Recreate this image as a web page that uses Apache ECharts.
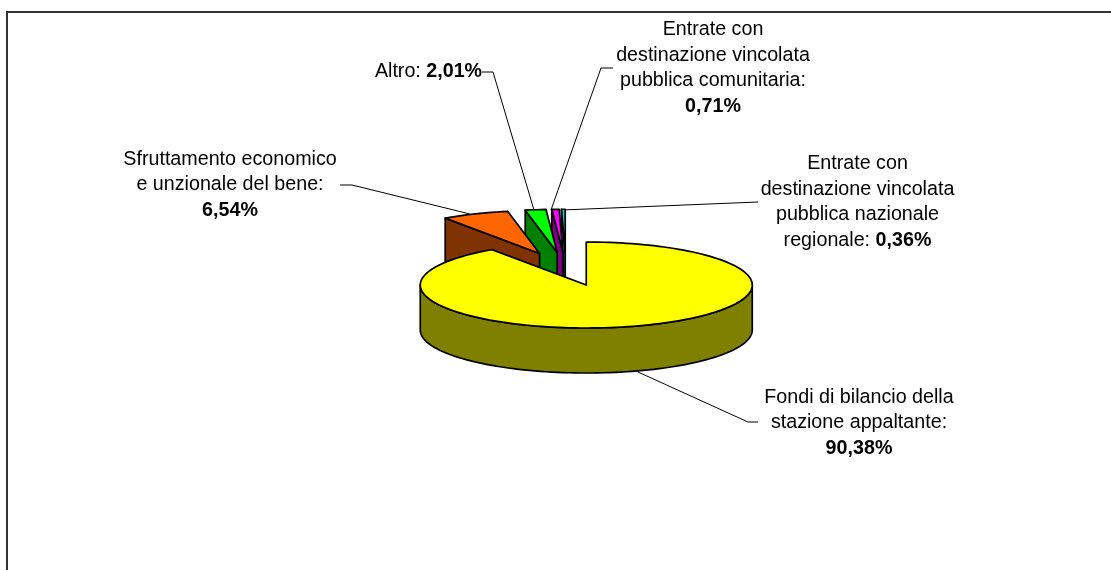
<!DOCTYPE html>
<html>
<head>
<meta charset="utf-8">
<style>
  html, body { margin: 0; padding: 0; background: #fff; }
  #chart { width: 1111px; height: 570px; }
</style>
<script src="https://cdn.jsdelivr.net/npm/echarts@6/dist/echarts.min.js"></script>
</head>
<body>
<div id="chart"></div>
<script>
// values as printed on the chart, in pie order (clockwise from 12 o'clock)
const categories = [
  "Fondi di bilancio della stazione appaltante",
  "Sfruttamento economico e unzionale del bene",
  "Altro",
  "Entrate con destinazione vincolata pubblica comunitaria",
  "Entrate con destinazione vincolata pubblica nazionale regionale",
];
const values = [90.38, 6.54, 2.01, 0.71, 0.36];
const valueLabels = ["90,38%", "6,54%", "2,01%", "0,71%", "0,36%"];
const topColors = ["#ffff00", "#ff6600", "#00ff00", "#ff00ff", "#00ccdd"];
const sideColors = ["#808000", "#803300", "#008000", "#800080", "#006670"];

// label text: plain lines, the last one also carries the bold value
const labelLines = [
  ["Fondi di bilancio della", "stazione appaltante:", ""],
  ["Sfruttamento economico", "e unzionale del bene:", ""],
  ["Altro: "],
  ["Entrate con", "destinazione vincolata", "pubblica comunitaria:", ""],
  ["Entrate con", "destinazione vincolata", "pubblica nazionale", "regionale: "],
];

// 3d pie look
const pie = { cx: 566, cy: 269, rx: 166, ry: 43, depth: 45, explodeX: 0.41, explodeY: 0.39 };

const labelPos = [
  { x: 859, y: 423 },
  { x: 230, y: 185 },
  { x: 428.5, y: 72 },
  { x: 713, y: 68 },
  { x: 857.5, y: 202 },
];
const leaders = [
  [[638, 372], [748, 422], [758, 422]],
  [[470, 214], [352, 185], [340, 185]],
  [[534, 210], [493, 72], [482, 72]],
  [[551, 210], [601, 68], [613, 68]],
  [[562, 210], [758, 202]],
];

const total = values.reduce((s, v) => s + v, 0);

function ellipsePoint(c, deg) {
  const a = (deg * Math.PI) / 180;
  return [c[0] + pie.rx * Math.sin(a), c[1] - pie.ry * Math.cos(a)];
}

function arcPoints(c, from, to) {
  const n = Math.max(2, Math.ceil((to - from) / 2));
  const pts = [];
  for (let i = 0; i <= n; i++) pts.push(ellipsePoint(c, from + ((to - from) * i) / n));
  return pts;
}

function down(p) {
  return [p[0], p[1] + pie.depth];
}

function style(fill) {
  return { fill, stroke: "#000", lineWidth: 1.7, lineJoin: "round" };
}

function renderSlice(params, api) {
  const from = api.value(0);
  const to = api.value(1);
  const i = api.value(2);
  const a = (((from + to) / 2) * Math.PI) / 180;
  const c = [
    pie.cx + pie.explodeX * pie.rx * Math.sin(a),
    pie.cy - pie.explodeY * pie.ry * Math.cos(a),
  ];
  const children = [];

  // radial cut faces, only when they look towards the viewer
  const faces = [];
  if (Math.sin((from * Math.PI) / 180) < -1e-6) faces.push(from);
  if (Math.sin((to * Math.PI) / 180) > 1e-6) faces.push(to);
  faces.forEach((deg) => {
    const p = ellipsePoint(c, deg);
    children.push({
      type: "polygon",
      shape: { points: [c, p, down(p), down(c)] },
      style: style(sideColors[i]),
    });
  });

  // outer wall, front half of the ellipse only
  const wallFrom = Math.max(from, 90);
  const wallTo = Math.min(to, 270);
  if (wallTo > wallFrom) {
    const arc = arcPoints(c, wallFrom, wallTo);
    children.push({
      type: "polygon",
      shape: { points: arc.concat(arc.map(down).reverse()) },
      style: style(sideColors[i]),
    });
  }

  // top face
  children.push({
    type: "polygon",
    shape: { points: [c].concat(arcPoints(c, from, to)) },
    style: style(topColors[i]),
  });
  return { type: "group", children };
}

function buildSliceData() {
  let acc = 0;
  const rows = values.map((v, i) => {
    const from = (acc / total) * 360;
    acc += v;
    return { name: categories[i], value: [from, (acc / total) * 360, i] };
  });
  // painter's order: back slices first, the big one last
  return rows.reverse();
}

function buildLabelText(i) {
  const lines = labelLines[i].slice();
  const last = lines.length - 1;
  lines[last] = (lines[last] ? "{n|" + lines[last] + "}" : "") + "{b|" + valueLabels[i] + "}";
  return lines.map((l, k) => (k === last ? l : "{n|" + l + "}")).join("\n");
}

const fontFamily = '"Liberation Sans", Arial, sans-serif';
const graphicEls = [
  { type: "polyline", shape: { points: [[7, 570], [7, 12], [1111, 12]] }, style: { fill: null, stroke: "#333", lineWidth: 2 } },
];
leaders.forEach((pts) => {
  graphicEls.push({ type: "polyline", shape: { points: pts }, style: { fill: null, stroke: "#000", lineWidth: 1 } });
});
labelPos.forEach((p, i) => {
  graphicEls.push({
    type: "text",
    x: p.x,
    y: p.y,
    style: {
      text: buildLabelText(i),
      align: "center",
      verticalAlign: "middle",
      rich: {
        n: { fontFamily, fontSize: 19.7, lineHeight: 25.6, fill: "#000" },
        b: { fontFamily, fontSize: 19.7, fontWeight: "bold", lineHeight: 25.6, fill: "#000" },
      },
    },
  });
});

const chart = echarts.init(document.getElementById("chart"), null, { renderer: "canvas" });
chart.setOption({
  animation: false,
  backgroundColor: "#fff",
  graphic: { elements: graphicEls },
  series: [
    {
      type: "custom",
      coordinateSystem: "none",
      renderItem: renderSlice,
      data: buildSliceData(),
      z: 1,
    },
  ],
});
</script>
</body>
</html>
